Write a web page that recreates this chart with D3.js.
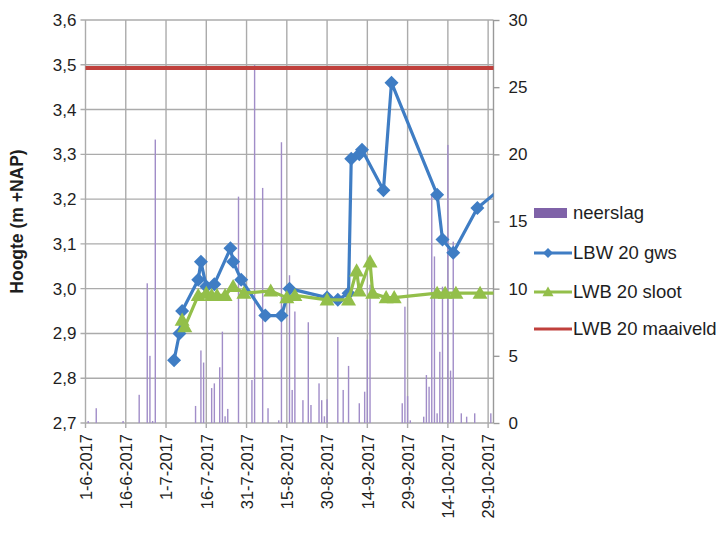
<!DOCTYPE html>
<html>
<head>
  <meta charset="utf-8">
  <title>Hoogte en neerslag LWB 20</title>
  <script src="https://d3js.org/d3.v7.min.js"></script>
  <style>
    body { margin: 0; background: #fff; }
    svg { display: block; font-family: 'Liberation Sans', Arial, sans-serif; }
  </style>
</head>
<body>
<script>
// neerslag (mm) - right axis
var rainDates = ["2017-06-02", "2017-06-05", "2017-06-15", "2017-06-21", "2017-06-24", "2017-06-25",
  "2017-06-26", "2017-06-27", "2017-07-12", "2017-07-14", "2017-07-15", "2017-07-18", "2017-07-19",
  "2017-07-21", "2017-07-22", "2017-07-23", "2017-07-24", "2017-07-28", "2017-08-02", "2017-08-03",
  "2017-08-06", "2017-08-08", "2017-08-12", "2017-08-13", "2017-08-16", "2017-08-17", "2017-08-18",
  "2017-08-21", "2017-08-23", "2017-08-24", "2017-08-27", "2017-08-28", "2017-08-29", "2017-08-30",
  "2017-09-03", "2017-09-05", "2017-09-07", "2017-09-11", "2017-09-13", "2017-09-14", "2017-09-15",
  "2017-09-27", "2017-09-28", "2017-09-29", "2017-09-30", "2017-10-05", "2017-10-06", "2017-10-07",
  "2017-10-08", "2017-10-09", "2017-10-10", "2017-10-11", "2017-10-12", "2017-10-14", "2017-10-15",
  "2017-10-16", "2017-10-19", "2017-10-21", "2017-10-24", "2017-10-30"];
var rainValues = [0.15, 1.1, 0.15, 2.1, 10.4, 5.0,
  0.15, 21.1, 1.27, 5.4, 4.5, 2.6, 2.95,
  4.15, 6.8, 0.5, 1.05, 16.85, 3.2, 26.65,
  17.5, 1.1, 0.2, 20.9, 11.0, 2.46, 8.3,
  1.7, 7.5, 1.34, 2.95, 1.7, 0.5, 1.76,
  6.4, 2.46, 4.25, 1.47, 2.33, 6.2, 10.3,
  1.47, 8.66, 2.0, 0.2, 0.47, 3.57, 2.7,
  17.0, 12.4, 0.72, 5.3, 10.15, 20.7, 3.9,
  13.5, 0.72, 0.47, 0.72, 0.72];

// LBW 20 gws (m +NAP) - left axis
var gwsDates = ["2017-07-04", "2017-07-06", "2017-07-07", "2017-07-13", "2017-07-14", "2017-07-16",
  "2017-07-19", "2017-07-25", "2017-07-26", "2017-07-29", "2017-08-07", "2017-08-13", "2017-08-16",
  "2017-08-30", "2017-09-03", "2017-09-07", "2017-09-08", "2017-09-11", "2017-09-12", "2017-09-20",
  "2017-09-23", "2017-10-10", "2017-10-12", "2017-10-16", "2017-10-25", "2017-11-03"];
var gwsValues = [2.84, 2.90, 2.95, 3.02, 3.06, 3.005,
  3.01, 3.09, 3.06, 3.02, 2.94, 2.94, 3.00,
  2.98, 2.975, 2.99, 3.29, 3.30, 3.31, 3.22,
  3.46, 3.21, 3.11, 3.08, 3.18, 3.225];

// LWB 20 sloot (m +NAP) - left axis
var slootDates = ["2017-07-07", "2017-07-08", "2017-07-13", "2017-07-16", "2017-07-18", "2017-07-20",
  "2017-07-23", "2017-07-26", "2017-07-30", "2017-08-09", "2017-08-15", "2017-08-18", "2017-08-30",
  "2017-09-07", "2017-09-10", "2017-09-11", "2017-09-15", "2017-09-16", "2017-09-21", "2017-09-24",
  "2017-10-10", "2017-10-13", "2017-10-17", "2017-10-26", "2017-11-03"];
var slootValues = [2.93, 2.915, 2.985, 2.99, 2.985, 2.985,
  2.985, 3.005, 2.99, 2.995, 2.98, 2.985, 2.975,
  2.975, 3.04, 2.995, 3.06, 2.99, 2.98, 2.98,
  2.99, 2.99, 2.99, 2.99, 2.99];

// LWB 20 maaiveld (m +NAP)
var maaiveldValue = 3.493;

var xDomain = ["2017-06-01", "2017-10-31"];
var xTickDates = ["2017-06-01", "2017-06-16", "2017-07-01", "2017-07-16", "2017-07-31", "2017-08-15",
  "2017-08-30", "2017-09-14", "2017-09-29", "2017-10-14", "2017-10-29"];
var yLeftTicks = [2.7, 2.8, 2.9, 3.0, 3.1, 3.2, 3.3, 3.4, 3.5, 3.6];
var yRightTicks = [0, 5, 10, 15, 20, 25, 30];
var legendLabels = ["neerslag", "LBW 20 gws", "LWB 20 sloot", "LWB 20 maaiveld"];

var parseDate = d3.utcParse("%Y-%m-%d");
var fmtDate = d3.utcFormat("%-d-%-m-%Y");

var width = 723, height = 536;
var plot = { left: 85.5, right: 493.5, top: 20, bottom: 423 };

var svg = d3.select("body").append("svg")
  .attr("width", width)
  .attr("height", height);

svg.append("rect").attr("width", width).attr("height", height).attr("fill", "#fff");

var x = d3.scaleUtc()
  .domain(xDomain.map(parseDate))
  .range([plot.left, plot.right]);
var yL = d3.scaleLinear().domain([2.7, 3.6]).range([plot.bottom, plot.top]);
var yR = d3.scaleLinear().domain([0, 30]).range([plot.bottom, plot.top]);

var gridColor = "#ababab";

// gridlines
svg.append("g")
  .selectAll("line")
  .data(yLeftTicks)
  .enter().append("line")
  .attr("x1", plot.left - 5).attr("x2", plot.right)
  .attr("y1", function (d) { return yL(d); })
  .attr("y2", function (d) { return yL(d); })
  .attr("stroke", gridColor).attr("stroke-width", 1.4);

svg.append("g")
  .selectAll("line")
  .data(xTickDates.map(parseDate))
  .enter().append("line")
  .attr("x1", function (d) { return x(d); })
  .attr("x2", function (d) { return x(d); })
  .attr("y1", plot.top).attr("y2", plot.bottom + 5)
  .attr("stroke", gridColor).attr("stroke-width", 1.4);

// right axis line
svg.append("line")
  .attr("x1", plot.right).attr("x2", plot.right)
  .attr("y1", plot.top).attr("y2", plot.bottom)
  .attr("stroke", "#999").attr("stroke-width", 1.4);

// neerslag bars
svg.append("g")
  .selectAll("rect")
  .data(rainDates.map(function (d, i) { return { date: parseDate(d), v: rainValues[i] }; }))
  .enter().append("rect")
  .attr("x", function (d) { return x(d.date) - 0.7; })
  .attr("width", 1.4)
  .attr("y", function (d) { return yR(d.v); })
  .attr("height", function (d) { return plot.bottom - yR(d.v); })
  .attr("fill", "#a18dc8");

// clip for the lines
svg.append("clipPath").attr("id", "plotclip")
  .append("rect")
  .attr("x", plot.left).attr("y", plot.top - 10)
  .attr("width", plot.right - plot.left).attr("height", plot.bottom - plot.top + 10);

var diamond = function (s) { return "M0," + (-s) + "L" + s + ",0L0," + s + "L" + (-s) + ",0Z"; };
var triangle = function (s) { return "M0," + (-s) + "L" + s + "," + (s * 0.75) + "L" + (-s) + "," + (s * 0.75) + "Z"; };

function drawSeries(dates, values, color, markerPath) {
  var pts = dates.map(function (d, i) { return [x(parseDate(d)), yL(values[i])]; });
  var g = svg.append("g").attr("clip-path", "url(#plotclip)");
  g.append("path")
    .attr("d", d3.line()(pts))
    .attr("fill", "none")
    .attr("stroke", color)
    .attr("stroke-width", 3.2)
    .attr("stroke-linejoin", "round");
  g.selectAll(".m")
    .data(pts)
    .enter().append("path")
    .attr("transform", function (p) { return "translate(" + p[0] + "," + p[1] + ")"; })
    .attr("d", markerPath)
    .attr("fill", color);
}

drawSeries(gwsDates, gwsValues, "#3f7dc4", diamond(7));
drawSeries(slootDates, slootValues, "#93bf4a", triangle(7.5));

// maaiveld
svg.append("line")
  .attr("x1", plot.left).attr("x2", plot.right)
  .attr("y1", yL(maaiveldValue)).attr("y2", yL(maaiveldValue))
  .attr("stroke", "#c0403c").attr("stroke-width", 4);

// axes
var axisL = svg.append("g")
  .attr("transform", "translate(" + plot.left + ",0)")
  .call(d3.axisLeft(yL).tickValues(yLeftTicks).tickSize(0).tickPadding(9)
    .tickFormat(function (d) { return d3.format(".1f")(d).replace(".", ","); }));
var axisR = svg.append("g")
  .attr("transform", "translate(" + plot.right + ",0)")
  .call(d3.axisRight(yR).tickValues(yRightTicks).tickSize(6).tickPadding(9));
var axisB = svg.append("g")
  .attr("transform", "translate(0," + plot.bottom + ")")
  .call(d3.axisBottom(x).tickValues(xTickDates.map(parseDate)).tickSize(0).tickFormat(fmtDate));

[axisL, axisR, axisB].forEach(function (a) {
  a.select(".domain").remove();
  a.selectAll("line").attr("stroke", "#999").attr("stroke-width", 1.4);
  a.selectAll("text").attr("fill", "#1e1e1e").style("font-size", "17px");
});

axisB.selectAll("text")
  .attr("transform", "rotate(-90)")
  .attr("text-anchor", "end")
  .attr("x", -11)
  .attr("y", 0)
  .attr("dy", "0.35em")
  .style("font-size", "16.5px");

// axis title
svg.append("text")
  .attr("transform", "translate(17," + ((plot.top + plot.bottom) / 2) + ") rotate(-90)")
  .attr("text-anchor", "middle")
  .attr("dy", "0.35em")
  .style("font-size", "17.5px")
  .style("font-weight", "bold")
  .attr("fill", "#1e1e1e")
  .text("Hoogte (m +NAP)");

// legend
var legendY = [213, 253, 292, 329];
var legendColors = ["#7f62a8", "#3f7dc4", "#93bf4a", "#c0403c"];
var leg = svg.append("g");
legendLabels.forEach(function (label, i) {
  var yy = legendY[i];
  var col = legendColors[i];
  if (i === 0) {
    leg.append("rect").attr("x", 534).attr("y", yy - 5).attr("width", 33).attr("height", 10).attr("fill", col);
  } else {
    leg.append("line").attr("x1", 534).attr("x2", 572).attr("y1", yy).attr("y2", yy)
      .attr("stroke", col).attr("stroke-width", 3);
    if (i === 1) leg.append("path").attr("transform", "translate(548," + yy + ")").attr("d", diamond(5)).attr("fill", col);
    if (i === 2) leg.append("path").attr("transform", "translate(548," + yy + ")").attr("d", triangle(5.5)).attr("fill", col);
  }
  leg.append("text")
    .attr("x", 573).attr("y", yy)
    .attr("dy", "0.35em")
    .style("font-size", "18.5px")
    .attr("fill", "#1e1e1e")
    .text(label);
});
</script>
</body>
</html>
